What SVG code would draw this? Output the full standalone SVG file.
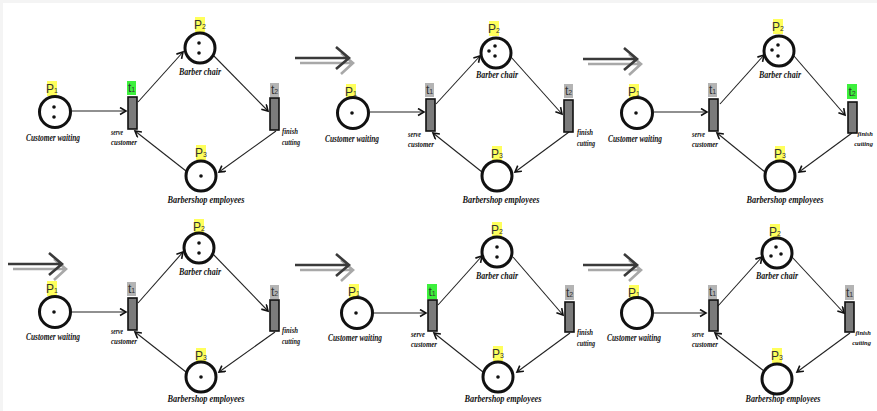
<svg xmlns="http://www.w3.org/2000/svg" xmlns:xlink="http://www.w3.org/1999/xlink" width="877" height="411" viewBox="0 0 877 411">
  <style>
    .place { fill: #ffffff; stroke: #111111; stroke-width: 3; }
    .tok { fill: #111111; stroke: none; }
    .trans { fill: #7b7b7b; stroke: #111111; stroke-width: 1.6; }
    .ly { fill: #ffff5c; }
    .lg { fill: #3cf03c; }
    .lx { fill: #b4b4b4; }
    .lab { font-family: "Liberation Sans", Arial, sans-serif; font-size: 12px; fill: #333333; text-anchor: middle; }
    .sub { font-size: 7px; }
    .cap { font-family: "Liberation Serif", "DejaVu Serif", serif; font-style: italic; font-weight: bold; font-size: 10px; fill: #111111; text-anchor: middle; }
    .cap2 { font-family: "Liberation Serif", "DejaVu Serif", serif; font-style: italic; font-weight: bold; font-size: 8.5px; fill: #111111; }
    .edge { font-size: 6.5px; text-anchor: end; }
    .arc { fill: none; stroke: #222222; stroke-width: 1.1; marker-end: url(#head); }
    .step-dark { fill: none; stroke: #3a3a3a; stroke-width: 2.6; }
    .step-light { fill: none; stroke: #a8a8a8; stroke-width: 2.6; }
  </style>
  <defs>
    <marker id="head" markerUnits="userSpaceOnUse" markerWidth="10" markerHeight="10" refX="7" refY="4" orient="auto">
      <path d="M1,0.5 L7,4 L1,7.5" fill="none" stroke="#111111" stroke-width="1.6"/>
    </marker>
    <!-- double "next state" arrow between markings -->
    <g id="step">
      <path class="step-light" d="M5,5 H57 M46,-5 L58,5 L46,16"/>
      <path class="step-dark" d="M0,0 H53 M41,-11 L54,0 L41,11"/>
    </g>
  </defs>

  <!-- page -->
  <rect x="0" y="0" width="877" height="411" fill="#ffffff"/>
  <rect x="0" y="0" width="877" height="3" fill="#f4f4f4"/>
  <rect x="0" y="0" width="3" height="411" fill="#f4f4f4"/>

  <!-- step arrows -->
  <g id="steps">
    <use xlink:href="#step" transform="translate(295,58)"/>
    <use xlink:href="#step" transform="translate(583,59)"/>
    <use xlink:href="#step" transform="translate(8,264)"/>
    <use xlink:href="#step" transform="translate(295,265)"/>
    <use xlink:href="#step" transform="translate(583,265)"/>
  </g>

  <!-- ===== marking 1 ===== -->
  <g id="m1">
    <g id="m1-arcs">
      <path class="arc" d="M71,111 L126,111"/>
      <path class="arc" d="M138,102 L183,52"/>
      <path class="arc" d="M213,55 L268,111"/>
      <path class="arc" d="M276,131 L219,172"/>
      <path class="arc" d="M186,171 L135,131"/>
    </g>
    <g id="m1-p1">
      <rect class="ly" x="47" y="81" width="10" height="15"/>
      <text class="lab" x="52" y="93">P<tspan class="sub">1</tspan></text>
      <circle class="place" cx="55" cy="112" r="15.5"/>
      <circle class="tok" cx="54" cy="107" r="1.8"/>
      <circle class="tok" cx="54" cy="117" r="1.8"/>
      <text class="cap" x="53" y="141" textLength="54" lengthAdjust="spacingAndGlyphs">Customer waiting</text>
    </g>
    <g id="m1-t1">
      <rect class="lg" x="127" y="81" width="9" height="14"/>
      <text class="lab" x="131.5" y="92">t<tspan class="sub">1</tspan></text>
      <rect class="trans" x="128" y="97" width="9" height="32"/>
      <text class="cap2" x="111" y="135" textLength="12" lengthAdjust="spacingAndGlyphs">serve</text>
      <text class="cap2" x="111" y="145" textLength="26" lengthAdjust="spacingAndGlyphs">customer</text>
    </g>
    <g id="m1-p2">
      <rect class="ly" x="195" y="17" width="10" height="15"/>
      <text class="lab" x="200" y="29">P<tspan class="sub">2</tspan></text>
      <circle class="place" cx="200" cy="48" r="15"/>
      <circle class="tok" cx="199" cy="43" r="1.8"/>
      <circle class="tok" cx="199" cy="53" r="1.8"/>
      <text class="cap" x="200" y="75" textLength="42" lengthAdjust="spacingAndGlyphs">Barber chair</text>
    </g>
    <g id="m1-t2">
      <rect class="lx" x="270" y="83" width="9" height="14"/>
      <text class="lab" x="274.5" y="94">t<tspan class="sub">2</tspan></text>
      <rect class="trans" x="270" y="98" width="9" height="32"/>
      <text class="cap2" x="282" y="134" textLength="16" lengthAdjust="spacingAndGlyphs">finish</text>
      <text class="cap2" x="282" y="145" textLength="18" lengthAdjust="spacingAndGlyphs">cutting</text>
    </g>
    <g id="m1-p3">
      <rect class="ly" x="196" y="145" width="10" height="15"/>
      <text class="lab" x="201" y="157">P<tspan class="sub">3</tspan></text>
      <circle class="place" cx="201" cy="176" r="15"/>
      <circle class="tok" cx="201" cy="176" r="1.8"/>
      <text class="cap" x="206" y="203" textLength="77" lengthAdjust="spacingAndGlyphs">Barbershop employees</text>
    </g>
  </g>

  <!-- ===== marking 2 ===== -->
  <g id="m2">
    <g id="m2-arcs">
      <path class="arc" d="M370,112 L424,112"/>
      <path class="arc" d="M436,104 L480,56"/>
      <path class="arc" d="M511,57 L562,114"/>
      <path class="arc" d="M569,132 L515,172"/>
      <path class="arc" d="M482,172 L433,133"/>
    </g>
    <g id="m2-p1">
      <rect class="ly" x="346" y="84" width="10" height="15"/>
      <text class="lab" x="351" y="96">P<tspan class="sub">1</tspan></text>
      <circle class="place" cx="353" cy="113" r="15.5"/>
      <circle class="tok" cx="352" cy="113" r="1.8"/>
      <text class="cap" x="352" y="142" textLength="54" lengthAdjust="spacingAndGlyphs">Customer waiting</text>
    </g>
    <g id="m2-t1">
      <rect class="lx" x="425" y="83" width="9" height="14"/>
      <text class="lab" x="429.5" y="94">t<tspan class="sub">1</tspan></text>
      <rect class="trans" x="426" y="99" width="9" height="32"/>
      <text class="cap2" x="408" y="137" textLength="13" lengthAdjust="spacingAndGlyphs">serve</text>
      <text class="cap2" x="408" y="147" textLength="26" lengthAdjust="spacingAndGlyphs">customer</text>
    </g>
    <g id="m2-p2">
      <rect class="ly" x="489" y="21" width="10" height="15"/>
      <text class="lab" x="494" y="33">P<tspan class="sub">2</tspan></text>
      <circle class="place" cx="496" cy="53" r="15"/>
      <circle class="tok" cx="495" cy="46" r="1.8"/>
      <circle class="tok" cx="489" cy="51" r="1.8"/>
      <circle class="tok" cx="495" cy="56" r="1.8"/>
      <text class="cap" x="497" y="78" textLength="42" lengthAdjust="spacingAndGlyphs">Barber chair</text>
    </g>
    <g id="m2-t2">
      <rect class="lx" x="564" y="84" width="9" height="14"/>
      <text class="lab" x="568.5" y="95">t<tspan class="sub">2</tspan></text>
      <rect class="trans" x="564" y="100" width="9" height="32"/>
      <text class="cap2" x="577" y="135" textLength="16" lengthAdjust="spacingAndGlyphs">finish</text>
      <text class="cap2" x="577" y="146" textLength="18" lengthAdjust="spacingAndGlyphs">cutting</text>
    </g>
    <g id="m2-p3">
      <rect class="ly" x="492" y="146" width="10" height="15"/>
      <text class="lab" x="497" y="158">P<tspan class="sub">3</tspan></text>
      <circle class="place" cx="497" cy="176" r="15"/>
      <text class="cap" x="501" y="203" textLength="77" lengthAdjust="spacingAndGlyphs">Barbershop employees</text>
    </g>
  </g>

  <!-- ===== marking 3 ===== -->
  <g id="m3">
    <g id="m3-arcs">
      <path class="arc" d="M654,112 L707,112"/>
      <path class="arc" d="M720,104 L764,55"/>
      <path class="arc" d="M794,56 L845,115"/>
      <path class="arc" d="M852,133 L799,172"/>
      <path class="arc" d="M765,172 L717,133"/>
    </g>
    <g id="m3-p1">
      <rect class="ly" x="629" y="84" width="10" height="15"/>
      <text class="lab" x="634" y="96">P<tspan class="sub">1</tspan></text>
      <circle class="place" cx="637" cy="113" r="15.5"/>
      <circle class="tok" cx="636" cy="113" r="1.8"/>
      <text class="cap" x="635" y="142" textLength="54" lengthAdjust="spacingAndGlyphs">Customer waiting</text>
    </g>
    <g id="m3-t1">
      <rect class="lx" x="708" y="83" width="9" height="14"/>
      <text class="lab" x="712.5" y="94">t<tspan class="sub">1</tspan></text>
      <rect class="trans" x="709" y="99" width="9" height="32"/>
      <text class="cap2" x="692" y="137" textLength="13" lengthAdjust="spacingAndGlyphs">serve</text>
      <text class="cap2" x="692" y="147" textLength="26" lengthAdjust="spacingAndGlyphs">customer</text>
    </g>
    <g id="m3-p2">
      <rect class="ly" x="773" y="19" width="10" height="15"/>
      <text class="lab" x="778" y="31">P<tspan class="sub">2</tspan></text>
      <circle class="place" cx="779" cy="51" r="15"/>
      <circle class="tok" cx="778" cy="45" r="1.8"/>
      <circle class="tok" cx="772" cy="50" r="1.8"/>
      <circle class="tok" cx="778" cy="56" r="1.8"/>
      <text class="cap" x="780" y="78" textLength="42" lengthAdjust="spacingAndGlyphs">Barber chair</text>
    </g>
    <g id="m3-t2">
      <rect class="lg" x="847" y="84" width="10" height="15"/>
      <text class="lab" x="852" y="96">t<tspan class="sub">2</tspan></text>
      <rect class="trans" x="848" y="102" width="9" height="31"/>
      <text class="cap2 edge" x="873" y="136">finish</text>
      <text class="cap2 edge" x="873" y="146">cutting</text>
    </g>
    <g id="m3-p3">
      <rect class="ly" x="775" y="146" width="10" height="15"/>
      <text class="lab" x="780" y="158">P<tspan class="sub">3</tspan></text>
      <circle class="place" cx="780" cy="176" r="15"/>
      <text class="cap" x="785" y="203" textLength="77" lengthAdjust="spacingAndGlyphs">Barbershop employees</text>
    </g>
  </g>

  <!-- ===== marking 4 ===== -->
  <g id="m4">
    <g id="m4-arcs">
      <path class="arc" d="M71,312 L126,312"/>
      <path class="arc" d="M138,303 L183,252"/>
      <path class="arc" d="M213,254 L268,311"/>
      <path class="arc" d="M275,332 L219,372"/>
      <path class="arc" d="M186,372 L135,332"/>
    </g>
    <g id="m4-p1">
      <rect class="ly" x="47" y="281" width="10" height="15"/>
      <text class="lab" x="52" y="293">P<tspan class="sub">1</tspan></text>
      <circle class="place" cx="55" cy="312" r="15.5"/>
      <circle class="tok" cx="54" cy="312" r="1.8"/>
      <text class="cap" x="53" y="340" textLength="54" lengthAdjust="spacingAndGlyphs">Customer waiting</text>
    </g>
    <g id="m4-t1">
      <rect class="lx" x="127" y="282" width="9" height="14"/>
      <text class="lab" x="131.5" y="293">t<tspan class="sub">1</tspan></text>
      <rect class="trans" x="128" y="298" width="9" height="32"/>
      <text class="cap2" x="111" y="334" textLength="12" lengthAdjust="spacingAndGlyphs">serve</text>
      <text class="cap2" x="111" y="344" textLength="26" lengthAdjust="spacingAndGlyphs">customer</text>
    </g>
    <g id="m4-p2">
      <rect class="ly" x="194" y="219" width="10" height="15"/>
      <text class="lab" x="199" y="231">P<tspan class="sub">2</tspan></text>
      <circle class="place" cx="199" cy="248" r="15"/>
      <circle class="tok" cx="199" cy="243" r="1.8"/>
      <circle class="tok" cx="199" cy="253" r="1.8"/>
      <text class="cap" x="200" y="275" textLength="42" lengthAdjust="spacingAndGlyphs">Barber chair</text>
    </g>
    <g id="m4-t2">
      <rect class="lx" x="270" y="285" width="9" height="14"/>
      <text class="lab" x="274.5" y="296">t<tspan class="sub">2</tspan></text>
      <rect class="trans" x="270" y="300" width="9" height="31"/>
      <text class="cap2" x="282" y="333" textLength="16" lengthAdjust="spacingAndGlyphs">finish</text>
      <text class="cap2" x="282" y="344" textLength="18" lengthAdjust="spacingAndGlyphs">cutting</text>
    </g>
    <g id="m4-p3">
      <rect class="ly" x="196" y="348" width="10" height="15"/>
      <text class="lab" x="201" y="360">P<tspan class="sub">3</tspan></text>
      <circle class="place" cx="201" cy="377" r="15"/>
      <circle class="tok" cx="201" cy="377" r="1.8"/>
      <text class="cap" x="206" y="402" textLength="77" lengthAdjust="spacingAndGlyphs">Barbershop employees</text>
    </g>
  </g>

  <!-- ===== marking 5 ===== -->
  <g id="m5">
    <g id="m5-arcs">
      <path class="arc" d="M373,313 L426,313"/>
      <path class="arc" d="M438,305 L482,256"/>
      <path class="arc" d="M513,257 L563,315"/>
      <path class="arc" d="M570,333 L517,372"/>
      <path class="arc" d="M483,372 L434,333"/>
    </g>
    <g id="m5-p1">
      <rect class="ly" x="349" y="284" width="10" height="15"/>
      <text class="lab" x="354" y="296">P<tspan class="sub">1</tspan></text>
      <circle class="place" cx="357" cy="313" r="15.5"/>
      <circle class="tok" cx="356" cy="313" r="1.8"/>
      <text class="cap" x="355" y="341" textLength="54" lengthAdjust="spacingAndGlyphs">Customer waiting</text>
    </g>
    <g id="m5-t1">
      <rect class="lg" x="427" y="284" width="10" height="15"/>
      <text class="lab" x="432" y="296">t<tspan class="sub">1</tspan></text>
      <rect class="trans" x="428" y="300" width="9" height="31"/>
      <text class="cap2" x="411" y="337" textLength="14" lengthAdjust="spacingAndGlyphs">serve</text>
      <text class="cap2" x="411" y="347" textLength="26" lengthAdjust="spacingAndGlyphs">customer</text>
    </g>
    <g id="m5-p2">
      <rect class="ly" x="492" y="222" width="10" height="15"/>
      <text class="lab" x="497" y="234">P<tspan class="sub">2</tspan></text>
      <circle class="place" cx="497" cy="252" r="15"/>
      <circle class="tok" cx="497" cy="247" r="1.8"/>
      <circle class="tok" cx="497" cy="257" r="1.8"/>
      <text class="cap" x="497" y="279" textLength="42" lengthAdjust="spacingAndGlyphs">Barber chair</text>
    </g>
    <g id="m5-t2">
      <rect class="lx" x="565" y="285" width="9" height="15"/>
      <text class="lab" x="569.5" y="297">t<tspan class="sub">2</tspan></text>
      <rect class="trans" x="565" y="302" width="9" height="30"/>
      <text class="cap2" x="577" y="335" textLength="16" lengthAdjust="spacingAndGlyphs">finish</text>
      <text class="cap2" x="577" y="346" textLength="18" lengthAdjust="spacingAndGlyphs">cutting</text>
    </g>
    <g id="m5-p3">
      <rect class="ly" x="493" y="346" width="10" height="15"/>
      <text class="lab" x="498" y="358">P<tspan class="sub">3</tspan></text>
      <circle class="place" cx="498" cy="377" r="15"/>
      <circle class="tok" cx="498" cy="377" r="1.8"/>
      <text class="cap" x="503" y="402" textLength="77" lengthAdjust="spacingAndGlyphs">Barbershop employees</text>
    </g>
  </g>

  <!-- ===== marking 6 ===== -->
  <g id="m6">
    <g id="m6-arcs">
      <path class="arc" d="M654,313 L706,313"/>
      <path class="arc" d="M718,306 L762,257"/>
      <path class="arc" d="M792,257 L844,313"/>
      <path class="arc" d="M850,333 L797,372"/>
      <path class="arc" d="M764,371 L715,333"/>
    </g>
    <g id="m6-p1">
      <rect class="ly" x="629" y="285" width="10" height="15"/>
      <text class="lab" x="634" y="297">P<tspan class="sub">1</tspan></text>
      <circle class="place" cx="637" cy="313" r="15.5"/>
      <text class="cap" x="634" y="341" textLength="54" lengthAdjust="spacingAndGlyphs">Customer waiting</text>
    </g>
    <g id="m6-t1">
      <rect class="lx" x="708" y="285" width="9" height="14"/>
      <text class="lab" x="712.5" y="296">t<tspan class="sub">1</tspan></text>
      <rect class="trans" x="709" y="300" width="9" height="31"/>
      <text class="cap2" x="692" y="337" textLength="12" lengthAdjust="spacingAndGlyphs">serve</text>
      <text class="cap2" x="692" y="347" textLength="26" lengthAdjust="spacingAndGlyphs">customer</text>
    </g>
    <g id="m6-p2">
      <rect class="ly" x="770" y="224" width="10" height="15"/>
      <text class="lab" x="775" y="236">P<tspan class="sub">2</tspan></text>
      <circle class="place" cx="777" cy="253" r="15"/>
      <circle class="tok" cx="776" cy="247" r="1.8"/>
      <circle class="tok" cx="771" cy="256" r="1.8"/>
      <circle class="tok" cx="781" cy="254" r="1.8"/>
      <text class="cap" x="777" y="279" textLength="42" lengthAdjust="spacingAndGlyphs">Barber chair</text>
    </g>
    <g id="m6-t2">
      <rect class="lx" x="845" y="285" width="9" height="15"/>
      <text class="lab" x="849.5" y="297">t<tspan class="sub">1</tspan></text>
      <rect class="trans" x="845" y="302" width="9" height="30"/>
      <text class="cap2 edge" x="871" y="335">finish</text>
      <text class="cap2 edge" x="871" y="345">cutting</text>
    </g>
    <g id="m6-p3">
      <rect class="ly" x="772" y="348" width="10" height="15"/>
      <text class="lab" x="777" y="360">P<tspan class="sub">3</tspan></text>
      <circle class="place" cx="777" cy="379" r="15"/>
      <text class="cap" x="783" y="402" textLength="75" lengthAdjust="spacingAndGlyphs">Barbershop employees</text>
    </g>
  </g>
</svg>
